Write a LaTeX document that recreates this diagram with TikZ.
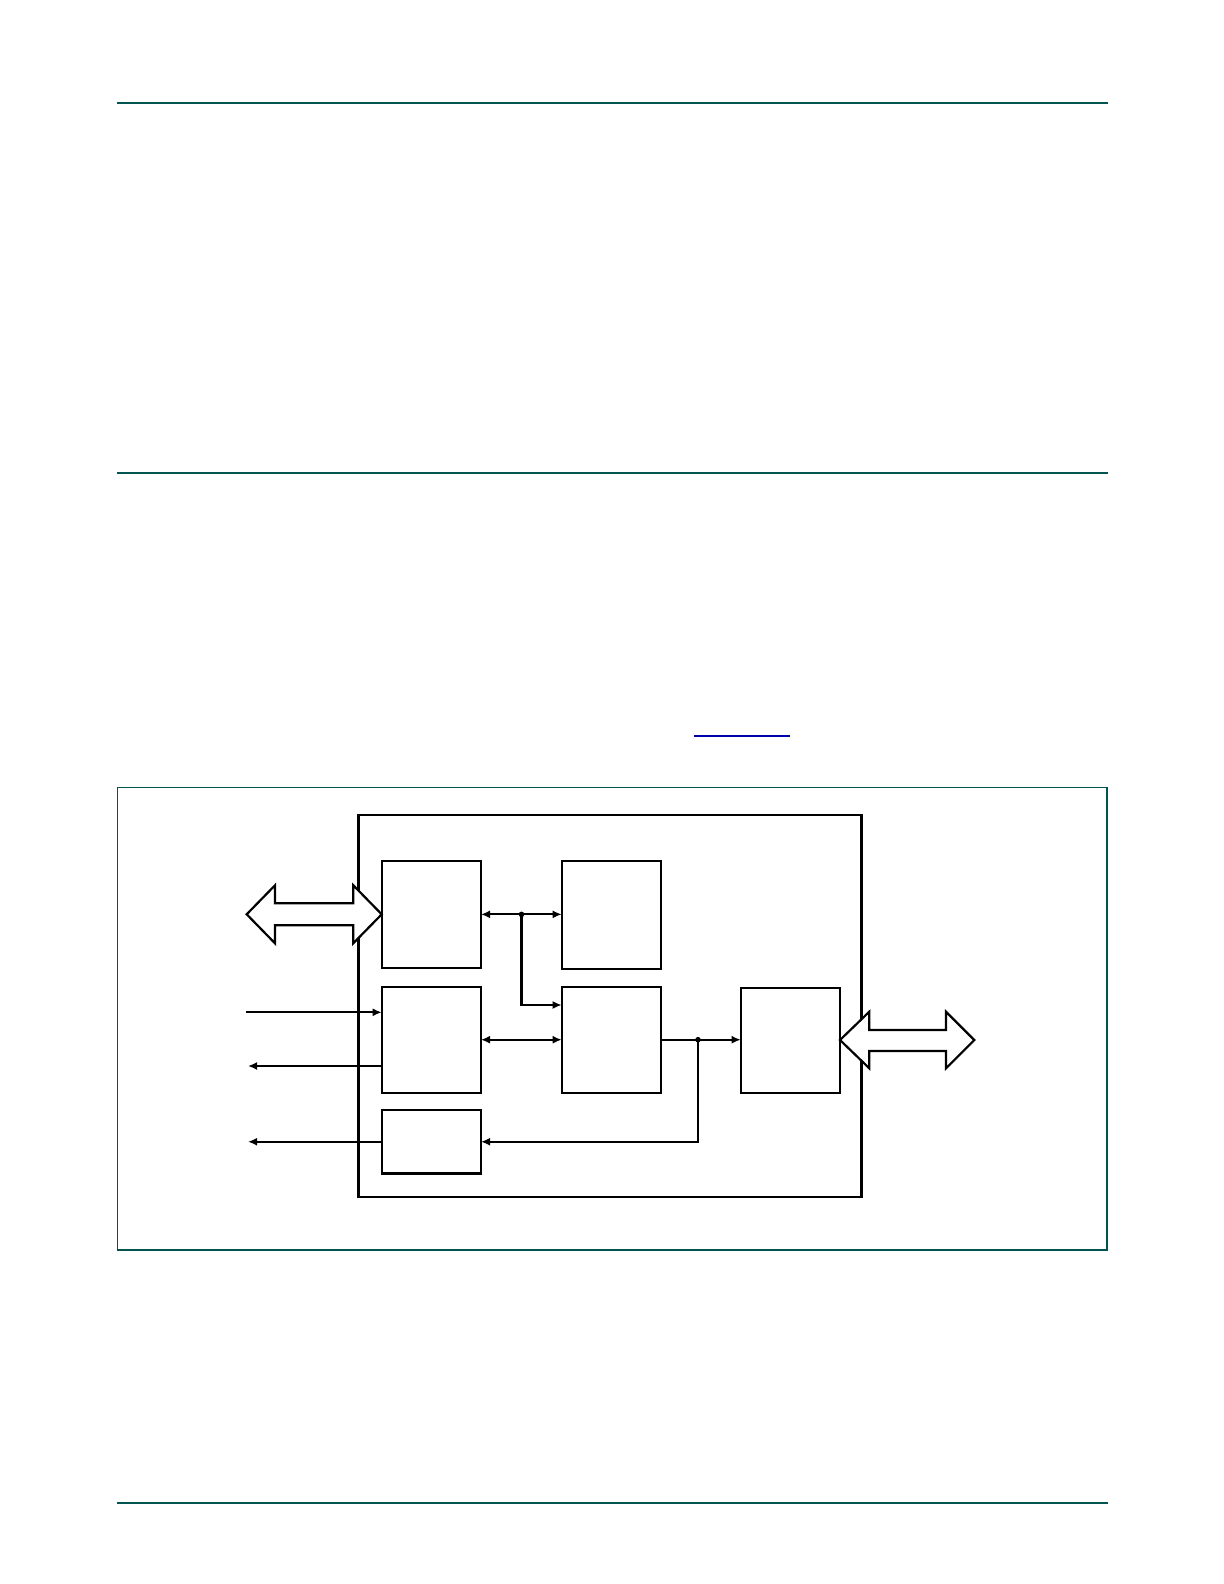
\documentclass[tikz,border=0pt]{standalone}
\usetikzlibrary{arrows.meta}
\definecolor{rulegreen}{RGB}{0,85,80}
\definecolor{linkblue}{RGB}{0,0,170}
\begin{document}
\begin{tikzpicture}[x=0.5pt,y=-0.5pt,
  blk/.style={draw, line width=1.1pt, inner sep=0pt, outer sep=0pt, anchor=north west, minimum width=49.65pt},
  sig/.style={line width=1.1pt, -{Latex[length=4.5pt,width=4pt]}},
  bisig/.style={line width=1.1pt, {Latex[length=4.5pt,width=4pt]}-{Latex[length=4.5pt,width=4pt]}},
  bigarr/.style={draw, fill=white, line width=1.1pt, line join=miter}]
\useasboundingbox (0,0) rectangle (1224,1584);

\draw[rulegreen, line width=0.9pt] (116.5,103) -- (1107.5,103);
\draw[rulegreen, line width=0.9pt] (116.5,472.6) -- (1107.5,472.6);
\draw[rulegreen, line width=0.9pt] (116.5,1502.7) -- (1107.5,1502.7);
\draw[linkblue, line width=0.6pt] (694,736) -- (790,736);
\draw[rulegreen, line width=0.6pt] (117.3,787.3) rectangle (1107,1250);

\node[blk, minimum width=251.5pt, minimum height=191pt] (chip) at (358.5,815) {};

\draw[bigarr] (246.7,914.3) -- (275,885.3) -- (275,903.3) -- (353.3,903.3) -- (353.3,885.3) -- (381.7,914.3)
  -- (353.3,943.3) -- (353.3,925.3) -- (275,925.3) -- (275,943.3) -- cycle;
\draw[bigarr] (840,1040) -- (869.3,1011.7) -- (869.3,1030) -- (946,1030) -- (946,1011.7) -- (974.3,1040)
  -- (946,1068.3) -- (946,1051) -- (869.3,1051) -- (869.3,1068.3) -- cycle;

\node[blk, minimum height=53.65pt] (hostif) at (381.7,860.7) {};
\node[blk, minimum height=54.15pt] (regs) at (561.7,860.7) {};
\node[blk, minimum height=53pt] (ioctl) at (381.7,986.7) {};
\node[blk, minimum height=53pt] (core) at (561.7,986.7) {};
\node[blk, minimum height=52.65pt] (busif) at (740.7,987.7) {};
\node[blk, minimum height=31.75pt] (timer) at (381.7,1110) {};

\coordinate (j1) at (521.5,914.35);
\coordinate (j2) at (698,1039.7);
\coordinate (inA) at (246,1012.3);
\coordinate (outA) at (248,1066);
\coordinate (outB) at (248,1142);

\draw[bisig] (hostif.east) -- (hostif.east -| regs.west);
\fill (j1) circle (1.4pt);
\draw[sig] (j1) |- ([yshift=17.35pt]core.west);
\draw[bisig] (ioctl.east) -- (core.west);
\draw[sig] (core.east) -- (core.east -| busif.west);
\fill (j2) circle (1.4pt);
\draw[sig] (j2) |- (timer.east);
\draw[sig] (inA) -- (inA -| ioctl.west);
\draw[sig] (outA -| ioctl.west) -- (outA);
\draw[sig] (timer.west) -- (timer.west -| outB);
\end{tikzpicture}
\end{document}
